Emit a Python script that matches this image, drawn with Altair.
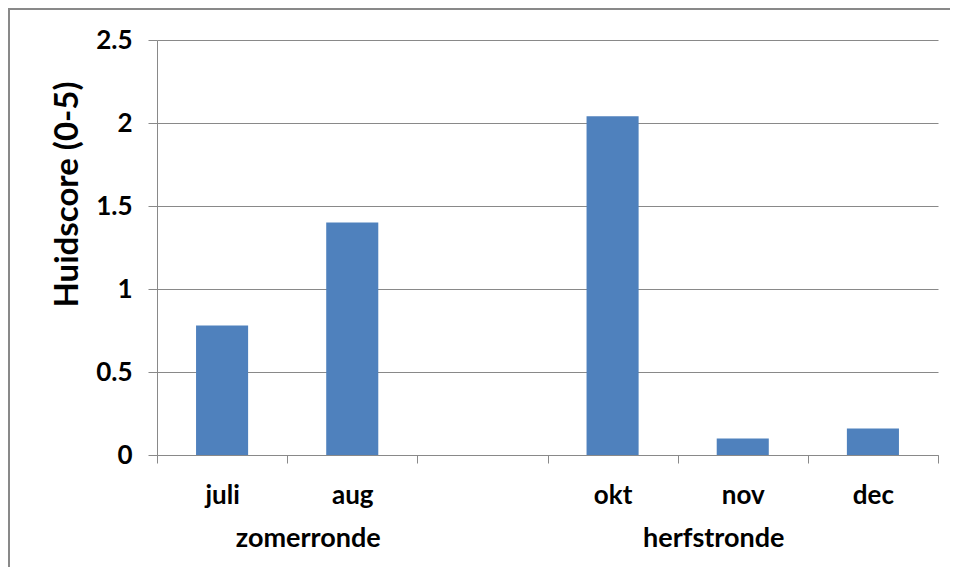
import altair as alt
import pandas as pd

# --- data ---
slots = ["juli", "aug", " ", "okt", "nov", "dec"]
maanden = ["juli", "aug", "okt", "nov", "dec"]
scores = [0.78, 1.40, 2.04, 0.10, 0.16]
rondes = ["zomerronde", "zomerronde", "herfstronde", "herfstronde", "herfstronde"]
y_ticks = [0, 0.5, 1, 1.5, 2, 2.5]

df = pd.DataFrame({"maand": maanden, "score": scores, "ronde": rondes})

FONT = "Lato"
GRAY = "#898989"
W, H = 781, 415
PAD_L, PAD_T, PAD_R, PAD_B = 149, 32, 12, 112

xscale = alt.Scale(domain=slots, paddingInner=0, paddingOuter=0)

bars = alt.Chart(df).mark_bar(color="#4F81BD", width=alt.RelativeBandSize(0.4)).encode(
    x=alt.X("maand:N", scale=xscale, sort=slots,
            axis=alt.Axis(title=None, labelAngle=0, tickBand="extent", tickSize=8,
                          labelFont=FONT, labelFontSize=26, labelFontWeight="bold",
                          labelColor="black", labelBaseline="alphabetic", labelPadding=40,
                          domainColor=GRAY, tickColor=GRAY, grid=False)),
    y=alt.Y("score:Q", scale=alt.Scale(domain=[0, 2.5], nice=False),
            axis=alt.Axis(title="Huidscore (0-5)", values=y_ticks, format="~g",
                          tickSize=9, labelPadding=16,
                          labelFont=FONT, labelFontSize=26, labelFontWeight="bold",
                          labelColor="black",
                          titleFont=FONT, titleFontSize=33, titleFontWeight="bold",
                          titleColor="black", titleX=-80, titleY=154,
                          titleAngle=270, titleAlign="center", titleBaseline="alphabetic",
                          domainColor=GRAY, tickColor=GRAY, gridColor=GRAY, grid=True)),
)

zomer = alt.Chart(alt.Data(values=[{"anker": "aug", "tekst": "zomerronde"}])).mark_text(
    font=FONT, fontSize=27, fontWeight="bold", color="black", baseline="alphabetic", dx=-44
).encode(x=alt.X("anker:N", scale=xscale), y=alt.value(507), text="tekst:N")

herfst = alt.Chart(alt.Data(values=[{"anker": "nov", "tekst": "herfstronde"}])).mark_text(
    font=FONT, fontSize=27, fontWeight="bold", color="black", baseline="alphabetic", dx=-29
).encode(x=alt.X("anker:N", scale=xscale), y=alt.value(507), text="tekst:N")

frame_top = alt.Chart(alt.Data(values=[{}])).mark_rule(color=GRAY, strokeWidth=2).encode(
    x=alt.value(-PAD_L), x2=alt.value(W + PAD_R), y=alt.value(-PAD_T + 1)
)
frame_left = alt.Chart(alt.Data(values=[{}])).mark_rule(color=GRAY, strokeWidth=2).encode(
    x=alt.value(-PAD_L + 1), y=alt.value(-PAD_T), y2=alt.value(H + PAD_B)
)

chart = alt.layer(bars, zomer, herfst, frame_top, frame_left).properties(
    width=W, height=H,
    autosize=alt.AutoSizeParams(type="none"),
    padding={"left": PAD_L, "top": PAD_T, "right": PAD_R, "bottom": PAD_B},
    background="white",
).configure_view(stroke=None)

chart.save("out.html", embed_options={"renderer": "svg", "actions": False})
